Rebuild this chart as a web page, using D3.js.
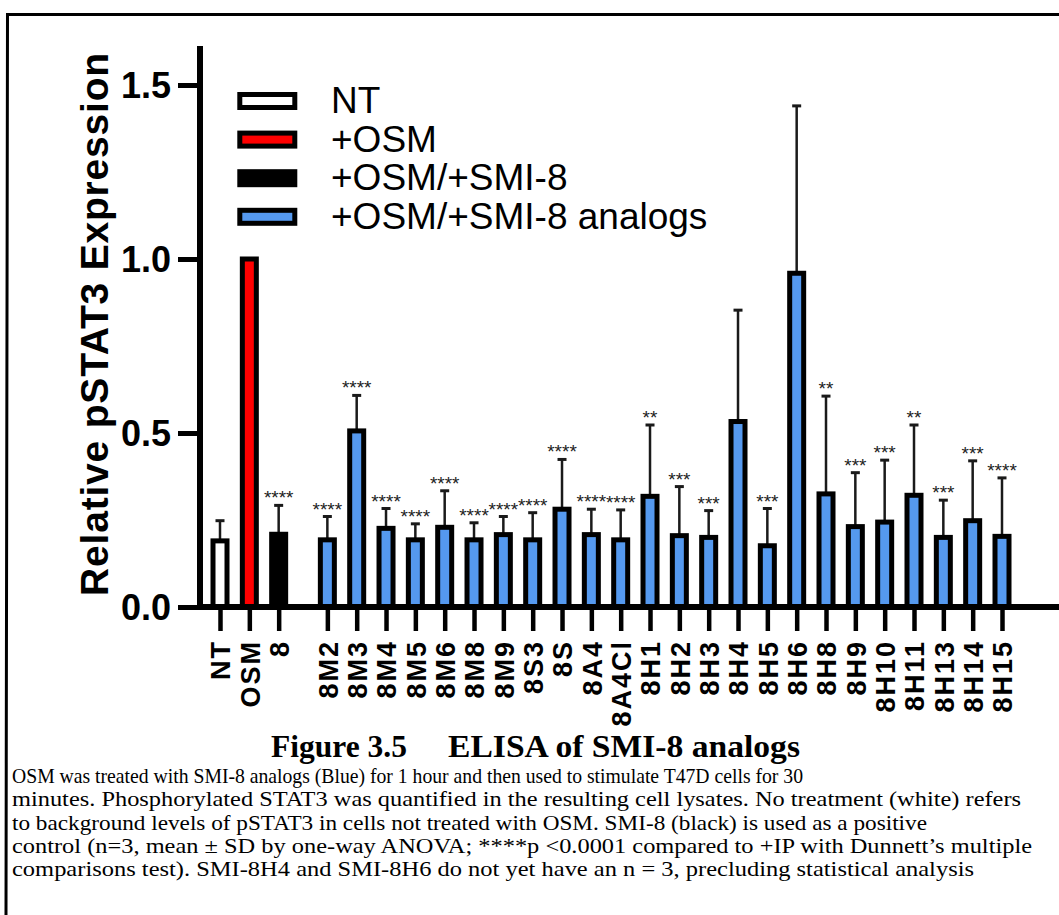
<!DOCTYPE html>
<html><head><meta charset="utf-8">
<script src="https://cdn.jsdelivr.net/npm/d3@7"></script>
<style>body{margin:0;background:#fff;}svg{display:block;}</style>
</head><body>
<script>
// ---- data ----
const categories = ["NT","OSM","8","8M2","8M3","8M4","8M5","8M6","8M8","8M9","8S3","8S","8A4","8A4Cl","8H1","8H2","8H3","8H4","8H5","8H6","8H8","8H9","8H10","8H11","8H13","8H14","8H15"];
const groups = [0,0,0,1,1,1,1,1,1,1,1,1,1,1,1,1,1,1,1,1,1,1,1,1,1,1,1];
const treatment = ["NT","OSM","SMI8","analog","analog","analog","analog","analog","analog","analog","analog","analog","analog","analog","analog","analog","analog","analog","analog","analog","analog","analog","analog","analog","analog","analog","analog"];
const means = [0.19,1.0,0.209,0.193,0.506,0.226,0.193,0.229,0.193,0.208,0.193,0.281,0.208,0.193,0.318,0.205,0.2,0.533,0.176,0.959,0.325,0.231,0.244,0.321,0.2,0.248,0.203];
const sds   = [0.058,0,0.083,0.067,0.102,0.057,0.046,0.105,0.049,0.052,0.078,0.143,0.073,0.086,0.205,0.141,0.077,0.32,0.107,0.481,0.281,0.155,0.178,0.202,0.107,0.172,0.168];
const stars = ["","","****","****","****","****","****","****","****","****","****","****","****","****","**","***","***","","***","","**","***","***","**","***","***","****"];
const yTicks = [0.0,0.5,1.0,1.5];
const legendLabels = ["NT","+OSM","+OSM/+SMI-8","+OSM/+SMI-8 analogs"];
const legendKeys = ["NT","OSM","SMI8","analog"];
const yTitle = "Relative pSTAT3 Expression";
const figTitleA = "Figure 3.5";
const figTitleB = "ELISA of SMI-8 analogs";
const captionLines = [
 "OSM was treated with SMI-8 analogs (Blue) for 1 hour and then used to stimulate T47D cells for 30",
 "minutes. Phosphorylated STAT3 was quantified in the resulting cell lysates. No treatment (white) refers",
 "to background levels of pSTAT3 in cells not treated with OSM. SMI-8 (black) is used as a positive",
 "control (n=3, mean \u00b1 SD by one-way ANOVA; ****p <0.0001 compared to +IP with Dunnett\u2019s multiple",
 "comparisons test). SMI-8H4 and SMI-8H6 do not yet have an n = 3, precluding statistical analysis"
];

// ---- layout ----
const W = 1059, H = 915;
const groupGap = 0.66;
const fills = {NT:"#ffffff", OSM:"#ff0000", SMI8:"#000000", analog:"#5599ef"};
const svg = d3.select("body").append("svg").attr("width",W).attr("height",H);

// frame
svg.append("path").attr("d","M6,915 L7.5,14.5 L1062,14.5").attr("fill","none").attr("stroke","#000").attr("stroke-width",3);

const pos = categories.map((c,i)=> i + groups[i]*groupGap);
const x = d3.scaleLinear().domain([0, d3.max(pos)]).range([220, 1002]);
const y = d3.scaleLinear().domain([0, 1.5]).range([607, 85]);

const font = "'Liberation Sans', Arial, sans-serif";

// Y axis
const yAxisG = svg.append("g").attr("transform","translate(200,0)")
  .call(d3.axisLeft(y).tickValues(yTicks).tickFormat(d3.format(".1f")).tickSize(22).tickSizeOuter(0));
yAxisG.select(".domain").remove();
yAxisG.selectAll(".tick line").attr("stroke","#000").attr("stroke-width",5);
yAxisG.selectAll(".tick text").attr("font-family",font).attr("font-weight","bold").attr("font-size",36).attr("fill","#000").attr("x",-29).attr("dy","0.36em");
svg.append("line").attr("x1",200).attr("x2",200).attr("y1",46).attr("y2",610).attr("stroke","#000").attr("stroke-width",6);

// X axis
const xAxisG = svg.append("g").attr("transform","translate(0,607)")
  .call(d3.axisBottom(x).tickValues(pos).tickFormat((d,i)=>categories[i]).tickSize(24).tickSizeOuter(0));
xAxisG.select(".domain").remove();
xAxisG.selectAll(".tick line").attr("stroke","#000").attr("stroke-width",4.5);
xAxisG.selectAll(".tick text")
  .attr("font-family",font).attr("font-weight","bold").attr("font-size",27).attr("fill","#000")
  .attr("letter-spacing",2)
  .attr("transform","rotate(-90)").attr("text-anchor","end")
  .attr("x",-33).attr("y",0).attr("dy","0.36em");

// error bars
const eg = svg.append("g");
categories.forEach((c,i)=>{
  if (sds[i] <= 0) return;
  const cx = x(pos[i]);
  eg.append("line").attr("x1",cx).attr("x2",cx).attr("y1",y(means[i])).attr("y2",y(means[i]+sds[i])).attr("stroke","#1a1a1a").attr("stroke-width",2.5);
  eg.append("line").attr("x1",cx-4.5).attr("x2",cx+4.5).attr("y1",y(means[i]+sds[i])).attr("y2",y(means[i]+sds[i])).attr("stroke","#1a1a1a").attr("stroke-width",3);
});

// bars
svg.append("g").selectAll("rect").data(categories).join("rect")
  .attr("x",(d,i)=>x(pos[i])-7).attr("width",14)
  .attr("y",(d,i)=>y(means[i])).attr("height",(d,i)=>y(0)-y(means[i]))
  .attr("fill",(d,i)=>fills[treatment[i]]).attr("stroke","#000").attr("stroke-width",5);
svg.append("line").attr("x1",197).attr("x2",1059).attr("y1",607).attr("y2",607).attr("stroke","#000").attr("stroke-width",6);

// stars
svg.append("g").selectAll("text").data(categories).join("text")
  .attr("x",(d,i)=>x(pos[i])).attr("y",(d,i)=>y(means[i]+sds[i])-1)
  .attr("text-anchor","middle").attr("font-family",font).attr("font-size",19).attr("fill","#222")
  .text((d,i)=>stars[i]);

// legend
const lg = svg.append("g");
legendLabels.forEach((l,i)=>{
  const cy = 101 + i*38.6;
  lg.append("rect").attr("x",239.8).attr("y",cy-6.5).attr("width",55).attr("height",13)
    .attr("fill",fills[legendKeys[i]]).attr("stroke","#000").attr("stroke-width",5);
  lg.append("text").attr("x",331).attr("y",cy+12).attr("font-family",font).attr("font-size",37).attr("fill","#000").text(l);
});

// y title
svg.append("text").attr("transform","translate(108,324) rotate(-90)").attr("text-anchor","middle")
  .attr("font-family",font).attr("font-weight","bold").attr("font-size",39).attr("letter-spacing",0.8).attr("fill","#000").text(yTitle);

// caption
const serif = "'Liberation Serif','Times New Roman',serif";
svg.append("text").attr("x",271).attr("y",757).attr("font-family",serif).attr("font-weight","bold").attr("font-size",31.5).text(figTitleA);
svg.append("text").attr("x",448).attr("y",757).attr("font-family",serif).attr("font-weight","bold").attr("font-size",31.5)
  .attr("textLength",352).attr("lengthAdjust","spacingAndGlyphs").text(figTitleB);
const lineEnds = [803,1021,927,1032,974];
captionLines.forEach((t,i)=>{
  svg.append("text").attr("x",12).attr("y",783+i*23.3).attr("font-family",serif).attr("font-size",21)
    .attr("textLength",lineEnds[i]-12).attr("lengthAdjust","spacingAndGlyphs").text(t);
});
</script>
</body></html>
